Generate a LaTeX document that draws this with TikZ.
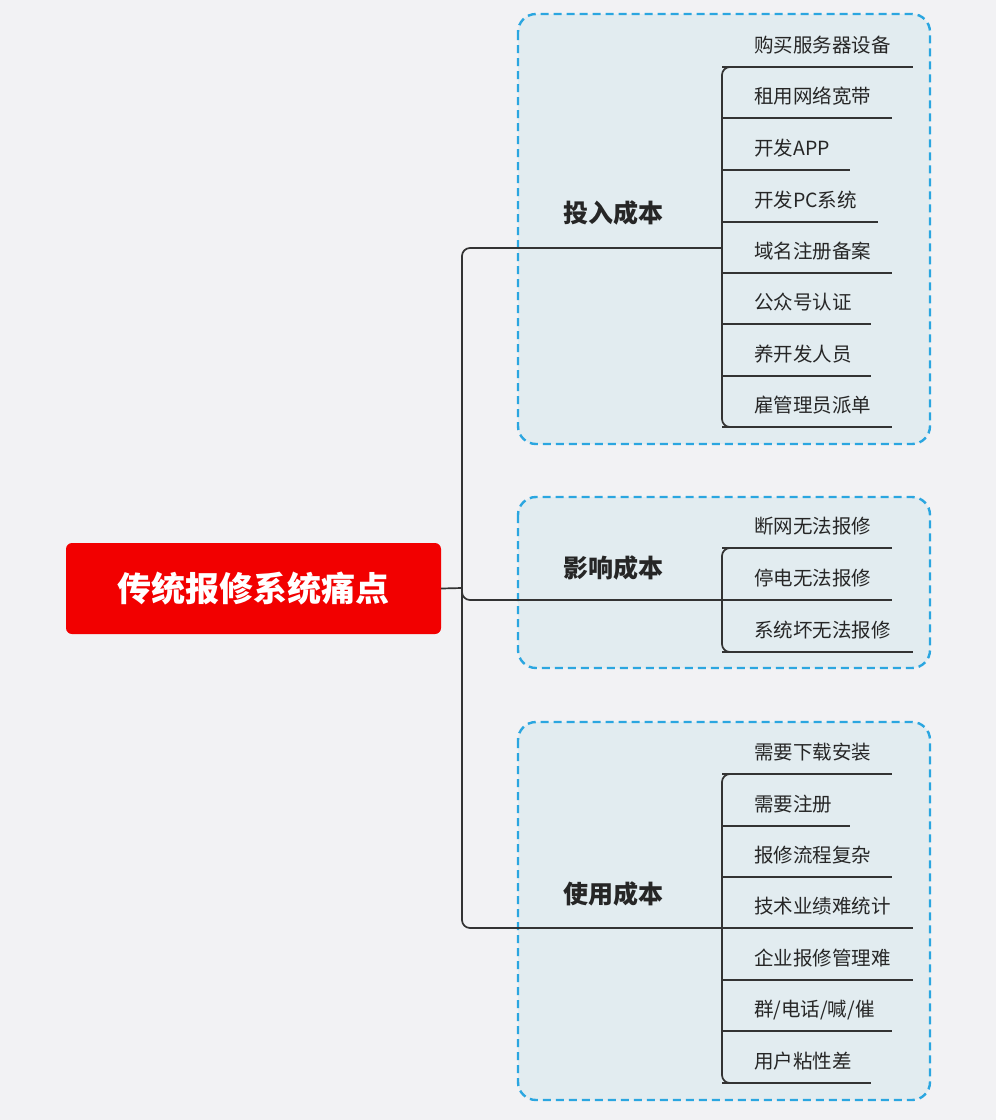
\documentclass[tikz,border=0pt]{standalone}
\usepackage{fontspec}
\setmainfont{Noto Sans CJK SC}
\definecolor{dsh}{HTML}{2BA6E0}
\definecolor{gfill}{HTML}{E2ECF0}
\definecolor{bg}{HTML}{F2F2F4}
\begin{document}
\begin{tikzpicture}[x=1pt,y=-1pt,
  grp/.style={draw=dsh, fill=gfill, dash pattern=on 8pt off 5pt, line width=2.4pt, rounded corners=18pt},
  lk/.style={draw=black!80, line width=1.7pt},
  leaf/.style={anchor=base west, inner sep=0pt, font=\fontsize{19.5}{22}\selectfont, text=black!85},
  br/.style={anchor=base west, inner sep=0pt, font=\fontsize{25}{28}\selectfont\bfseries, text=black!85}]
\fill[bg] (0,0) rectangle (996,1120);
\draw[grp] (518,14) rectangle (930,444);
\draw[grp] (518,497) rectangle (930,668);
\draw[grp] (518,722) rectangle (930,1100);
\node[fill=red!95!black, rounded corners=6pt, minimum width=375pt, minimum height=91pt, text=white, font=\fontsize{34}{38}\selectfont\bfseries] (root) at (253.5,588.5) {传统报修系统痛点};
\coordinate (t) at (462,588);
\draw[lk] (root.east) -- (t);
\draw[lk, rounded corners=8pt] (722,248) -- (462,248) -- (462,928) -- (722,928);
\draw[lk, rounded corners=8pt] (462,585) -- (462,600) -- (722,600);
\node[br] (b1) at (563,222) {投入成本};
\node[br] (b2) at (563,577) {影响成本};
\node[br] (b3) at (563,903) {使用成本};
\foreach \y/\e/\t [count=\i] in {67/913/购买服务器设备,118/892/租用网络宽带,170/850/开发APP,222/878/开发PC系统,273/892/域名注册备案,324/871/公众号认证,376/871/养开发人员,427/892/雇管理员派单,548/892/断网无法报修,600/892/停电无法报修,652/913/系统坏无法报修,774/892/需要下载安装,826/850/需要注册,877/892/报修流程复杂,928/913/技术业绩难统计,980/913/企业报修管理难,1031/892/{群/电话/喊/催},1083/871/用户粘性差}{
  \node[leaf] (l\i) at (754,\y-15) {\t};
  \draw[lk] (722,\y) -- (\e,\y);
}
\draw[lk, rounded corners=8pt] (740,67) -- (722,67) -- (722,427) -- (740,427);
\draw[lk, rounded corners=8pt] (740,548) -- (722,548) -- (722,652) -- (740,652);
\draw[lk, rounded corners=8pt] (740,774) -- (722,774) -- (722,1083) -- (740,1083);
\end{tikzpicture}
\end{document}
